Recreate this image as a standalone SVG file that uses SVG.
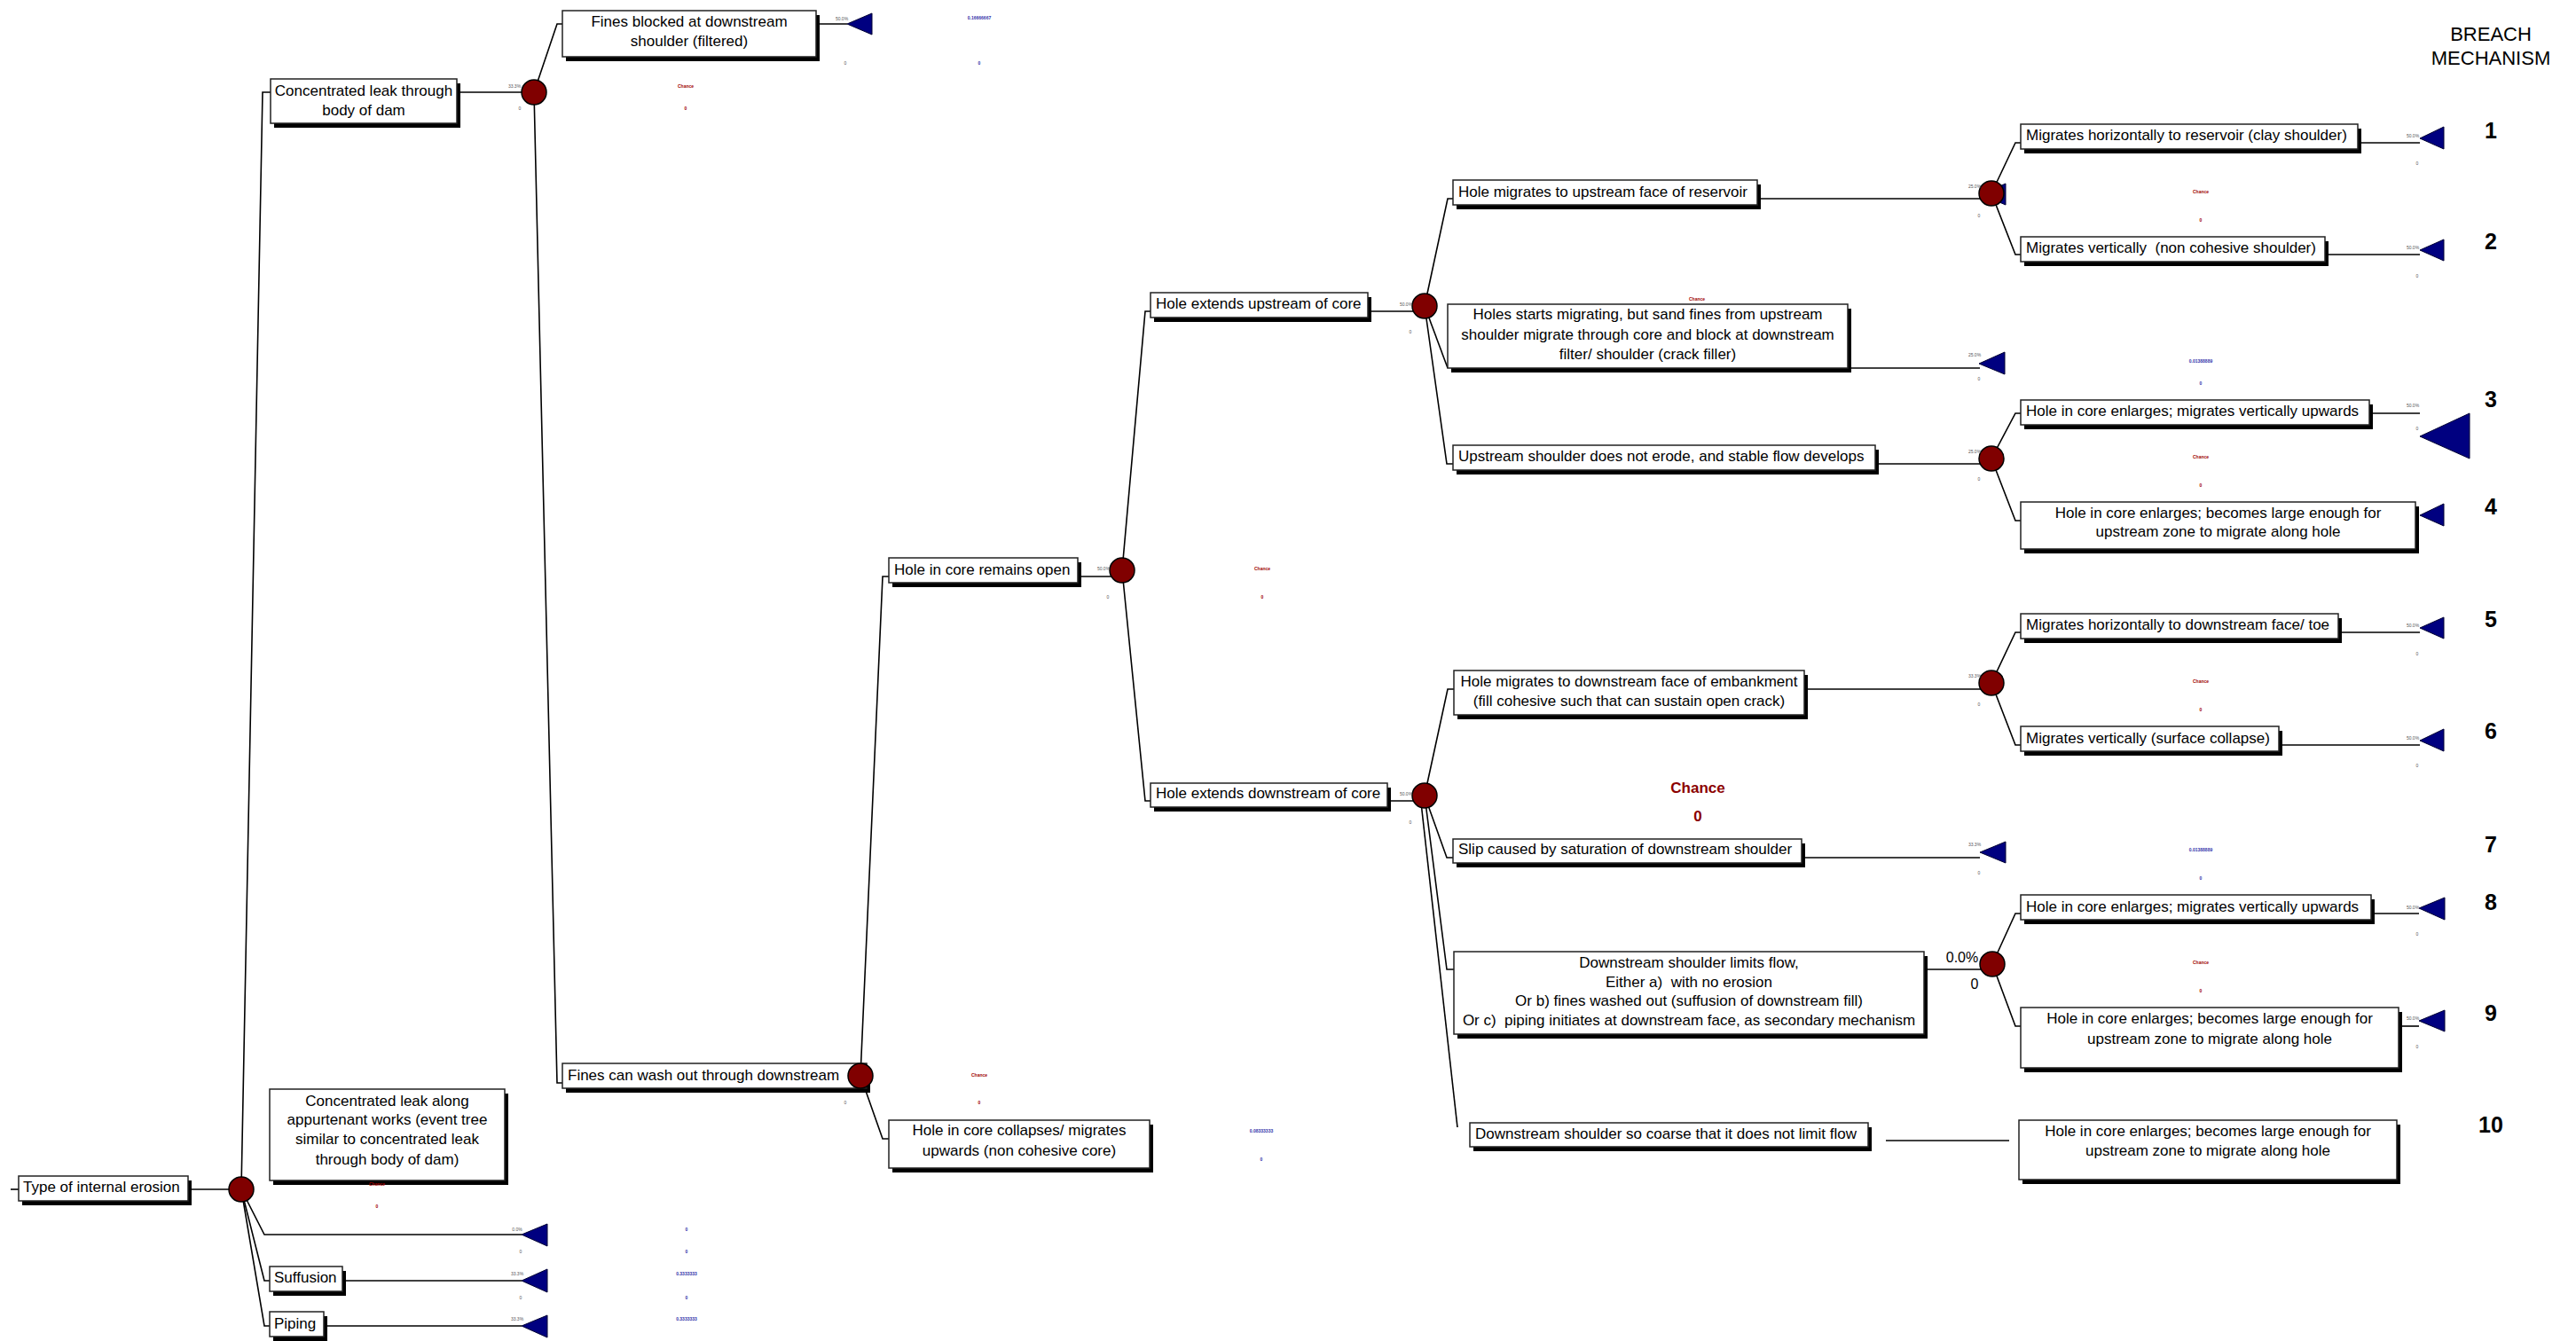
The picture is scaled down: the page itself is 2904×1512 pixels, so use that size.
<svg xmlns="http://www.w3.org/2000/svg" width="2904" height="1512" viewBox="0 0 2904 1512">
<style>
.sh{fill:#000}
.bx{fill:#fff;stroke:#222;stroke-width:1.5}
.t{font-family:"Liberation Sans",Arial,sans-serif;font-size:17px;fill:#000;white-space:pre}
.m{text-anchor:middle}
.c{fill:#800000;stroke:#000;stroke-width:1.5}
.tri{fill:#000080;stroke:#000033;stroke-width:1}
.conn{fill:none;stroke:#000;stroke-width:1.6}
.p{font-family:"Liberation Sans",Arial,sans-serif;font-size:5px;fill:#555;text-anchor:middle}
.r{font-family:"Liberation Sans",Arial,sans-serif;font-size:5px;fill:#a00000;text-anchor:middle;font-weight:bold}
.b{font-family:"Liberation Sans",Arial,sans-serif;font-size:5px;fill:#3333aa;text-anchor:middle;font-weight:bold}
.num{font-family:"Liberation Sans",Arial,sans-serif;font-size:25px;font-weight:bold;text-anchor:middle;fill:#000}
.hd{font-family:"Liberation Sans",Arial,sans-serif;font-size:22px;text-anchor:middle;fill:#000}
</style>
<rect width="2904" height="1512" fill="#fff"/>

<g id="connectors">
<polyline class="conn" points="12,1341 21,1341"/>
<polyline class="conn" points="212,1341 272,1341"/>
<polyline class="conn" points="272,1341 296,104 305,104"/>
<polyline class="conn" points="272,1341 298,1392 588,1392"/>
<polyline class="conn" points="272,1341 298,1444 304,1444"/>
<polyline class="conn" points="386,1444 588,1444"/>
<polyline class="conn" points="272,1341 298,1495 304,1495"/>
<polyline class="conn" points="365,1495 588,1495"/>
<polyline class="conn" points="515,104 602,104"/>
<polyline class="conn" points="602,104 628,27 634,27"/>
<polyline class="conn" points="920,27 955,27"/>
<polyline class="conn" points="602,104 628,1221 634,1221"/>
<polyline class="conn" points="970,1213 995,650 1002,650"/>
<polyline class="conn" points="970,1213 995,1284 1002,1284"/>
<polyline class="conn" points="1215,650 1265,650"/>
<polyline class="conn" points="1265,643 1291,351 1297,351"/>
<polyline class="conn" points="1265,643 1291,903 1297,903"/>
<polyline class="conn" points="1542,351 1606,351"/>
<polyline class="conn" points="1564,903 1606,903"/>
<polyline class="conn" points="1606,345 1632,224 1638,224"/>
<polyline class="conn" points="1606,345 1632,415"/>
<polyline class="conn" points="1606,345 1631,523 1638,523"/>
<polyline class="conn" points="1981,224 2245,224"/>
<polyline class="conn" points="2083,415 2232,415"/>
<polyline class="conn" points="2114,523 2245,523"/>
<polyline class="conn" points="1606,897 1632,777 1639,777"/>
<polyline class="conn" points="1606,897 1631,967 1638,967"/>
<polyline class="conn" points="1606,897 1631,1093 1639,1093"/>
<polyline class="conn" points="1602,905 1643,1271"/>
<polyline class="conn" points="2034,777 2245,777"/>
<polyline class="conn" points="2031,967 2232,967"/>
<polyline class="conn" points="2169,1093 2246,1093"/>
<polyline class="conn" points="2126,1286 2265,1286"/>
<polyline class="conn" points="2245,218 2272,161 2278,161"/>
<polyline class="conn" points="2658,161 2728,161"/>
<polyline class="conn" points="2245,218 2272,287 2278,287"/>
<polyline class="conn" points="2621,287 2728,287"/>
<polyline class="conn" points="2245,517 2272,466 2278,466"/>
<polyline class="conn" points="2671,466 2728,466"/>
<polyline class="conn" points="2245,517 2272,587 2278,587"/>
<polyline class="conn" points="2245,770 2272,713 2278,713"/>
<polyline class="conn" points="2636,713 2728,713"/>
<polyline class="conn" points="2245,770 2272,840 2278,840"/>
<polyline class="conn" points="2569,840 2728,840"/>
<polyline class="conn" points="2246,1087 2272,1030 2278,1030"/>
<polyline class="conn" points="2673,1030 2727,1030"/>
<polyline class="conn" points="2246,1087 2272,1157 2278,1157"/>
<polyline class="conn" points="2704,1157 2727,1157"/>
</g>

<g id="n-type"><rect class="sh" x="25" y="1331" width="191" height="28"/><rect class="bx" x="21" y="1326" width="191" height="28"/><text class="t" x="26" y="1344">Type of internal erosion</text></g>
<g id="n-conc-body"><rect class="sh" x="309" y="94" width="210" height="50"/><rect class="bx" x="305" y="89" width="210" height="50"/><text class="t m" x="410" y="108">Concentrated leak through</text><text class="t m" x="410" y="130">body of dam</text></g>
<g id="n-conc-app"><rect class="sh" x="308" y="1233" width="265" height="103"/><rect class="bx" x="304" y="1228" width="265" height="103"/><text class="t m" x="436.5" y="1247">Concentrated leak along</text><text class="t m" x="436.5" y="1268">appurtenant works (event tree</text><text class="t m" x="436.5" y="1290">similar to concentrated leak</text><text class="t m" x="436.5" y="1313">through body of dam)</text></g>
<g id="n-suffusion"><rect class="sh" x="308" y="1433" width="82" height="28"/><rect class="bx" x="304" y="1428" width="82" height="28"/><text class="t" x="309" y="1446">Suffusion</text></g>
<g id="n-piping"><rect class="sh" x="308" y="1484" width="61" height="28"/><rect class="bx" x="304" y="1479" width="61" height="28"/><text class="t" x="309" y="1498">Piping</text></g>
<g id="n-fines-blocked"><rect class="sh" x="638" y="17" width="286" height="52"/><rect class="bx" x="634" y="12" width="286" height="52"/><text class="t m" x="777" y="30">Fines blocked at downstream</text><text class="t m" x="777" y="52">shoulder (filtered)</text></g>
<g id="n-fines-wash"><rect class="sh" x="638" y="1204" width="343" height="28"/><rect class="bx" x="634" y="1199" width="343" height="28"/><text class="t" x="640" y="1218">Fines can wash out through downstream</text></g>
<g id="n-open"><rect class="sh" x="1006" y="634" width="213" height="28"/><rect class="bx" x="1002" y="629" width="213" height="28"/><text class="t" x="1008" y="648">Hole in core remains open</text></g>
<g id="n-collapse"><rect class="sh" x="1006" y="1268" width="294" height="54"/><rect class="bx" x="1002" y="1263" width="294" height="54"/><text class="t m" x="1149" y="1280">Hole in core collapses/ migrates</text><text class="t m" x="1149" y="1303">upwards (non cohesive core)</text></g>
<g id="n-ext-up"><rect class="sh" x="1301" y="335" width="245" height="28"/><rect class="bx" x="1297" y="330" width="245" height="28"/><text class="t" x="1303" y="348">Hole extends upstream of core</text></g>
<g id="n-ext-down"><rect class="sh" x="1301" y="888" width="267" height="27"/><rect class="bx" x="1297" y="883" width="267" height="27"/><text class="t" x="1303" y="900">Hole extends downstream of core</text></g>
<g id="n-mig-up"><rect class="sh" x="1642" y="208" width="343" height="28"/><rect class="bx" x="1638" y="203" width="343" height="28"/><text class="t" x="1644" y="222">Hole migrates to upstream face of reservoir</text></g>
<g id="n-crack-filler"><rect class="sh" x="1636" y="348" width="451" height="72"/><rect class="bx" x="1632" y="343" width="451" height="72"/><text class="t m" x="1857.5" y="360">Holes starts migrating, but sand fines from upstream</text><text class="t m" x="1857.5" y="383">shoulder migrate through core and block at downstream</text><text class="t m" x="1857.5" y="405">filter/ shoulder (crack filler)</text></g>
<g id="n-stable"><rect class="sh" x="1642" y="507" width="476" height="28"/><rect class="bx" x="1638" y="502" width="476" height="28"/><text class="t" x="1644" y="520">Upstream shoulder does not erode, and stable flow develops</text></g>
<g id="n-mig-down"><rect class="sh" x="1643" y="761" width="395" height="50"/><rect class="bx" x="1639" y="756" width="395" height="50"/><text class="t m" x="1836.5" y="774">Hole migrates to downstream face of embankment</text><text class="t m" x="1836.5" y="796">(fill cohesive such that can sustain open crack)</text></g>
<g id="n-slip"><rect class="sh" x="1642" y="951" width="393" height="27"/><rect class="bx" x="1638" y="946" width="393" height="27"/><text class="t" x="1644" y="963">Slip caused by saturation of downstream shoulder</text></g>
<g id="n-limits"><rect class="sh" x="1643" y="1078" width="530" height="93"/><rect class="bx" x="1639" y="1073" width="530" height="93"/><text class="t m" x="1904" y="1091">Downstream shoulder limits flow,</text><text class="t m" x="1904" y="1113">Either a)  with no erosion</text><text class="t m" x="1904" y="1134">Or b) fines washed out (suffusion of downstream fill)</text><text class="t m" x="1904" y="1156">Or c)  piping initiates at downstream face, as secondary mechanism</text></g>
<g id="n-coarse"><rect class="sh" x="1661" y="1271" width="449" height="27"/><rect class="bx" x="1657" y="1266" width="449" height="27"/><text class="t" x="1663" y="1284">Downstream shoulder so coarse that it does not limit flow</text></g>
<g id="n-b1"><rect class="sh" x="2282" y="145" width="380" height="28"/><rect class="bx" x="2278" y="140" width="380" height="28"/><text class="t" x="2284" y="158">Migrates horizontally to reservoir (clay shoulder)</text></g>
<g id="n-b2"><rect class="sh" x="2282" y="272" width="343" height="28"/><rect class="bx" x="2278" y="267" width="343" height="28"/><text class="t" x="2284" y="285">Migrates vertically  (non cohesive shoulder)</text></g>
<g id="n-b3"><rect class="sh" x="2282" y="456" width="393" height="28"/><rect class="bx" x="2278" y="451" width="393" height="28"/><text class="t" x="2284" y="469">Hole in core enlarges; migrates vertically upwards</text></g>
<g id="n-b4"><rect class="sh" x="2282" y="571" width="445" height="53"/><rect class="bx" x="2278" y="566" width="445" height="53"/><text class="t m" x="2500.5" y="584">Hole in core enlarges; becomes large enough for</text><text class="t m" x="2500.5" y="605">upstream zone to migrate along hole</text></g>
<g id="n-b5"><rect class="sh" x="2282" y="697" width="358" height="28"/><rect class="bx" x="2278" y="692" width="358" height="28"/><text class="t" x="2284" y="710">Migrates horizontally to downstream face/ toe</text></g>
<g id="n-b6"><rect class="sh" x="2282" y="824" width="291" height="28"/><rect class="bx" x="2278" y="819" width="291" height="28"/><text class="t" x="2284" y="838">Migrates vertically (surface collapse)</text></g>
<g id="n-b8"><rect class="sh" x="2282" y="1014" width="395" height="28"/><rect class="bx" x="2278" y="1009" width="395" height="28"/><text class="t" x="2284" y="1028">Hole in core enlarges; migrates vertically upwards</text></g>
<g id="n-b9"><rect class="sh" x="2282" y="1141" width="426" height="68"/><rect class="bx" x="2278" y="1136" width="426" height="68"/><text class="t m" x="2491" y="1154">Hole in core enlarges; becomes large enough for</text><text class="t m" x="2491" y="1177">upstream zone to migrate along hole</text></g>
<g id="n-b10"><rect class="sh" x="2280" y="1268" width="426" height="67"/><rect class="bx" x="2276" y="1263" width="426" height="67"/><text class="t m" x="2489" y="1281">Hole in core enlarges; becomes large enough for</text><text class="t m" x="2489" y="1303">upstream zone to migrate along hole</text></g>

<g id="terminals">
<polygon class="tri" points="955,27 983,15 983,39"/>
<polygon class="tri" points="2233,219 2261,207 2261,231"/>
<polygon class="tri" points="2728,156 2755,143 2755,168"/>
<polygon class="tri" points="2728,282 2755,270 2755,294"/>
<polygon class="tri" points="2231,410 2260,397 2260,422"/>
<polygon class="tri" points="2728,492 2784,466 2784,517"/>
<polygon class="tri" points="2728,581 2755,568 2755,593"/>
<polygon class="tri" points="2728,708 2755,696 2755,720"/>
<polygon class="tri" points="2728,835 2755,822 2755,847"/>
<polygon class="tri" points="2232,961 2261,949 2261,973"/>
<polygon class="tri" points="2727,1024 2756,1012 2756,1037"/>
<polygon class="tri" points="2727,1151 2756,1139 2756,1163"/>
<polygon class="tri" points="588,1392 617,1380 617,1405"/>
<polygon class="tri" points="588,1444 617,1431 617,1457"/>
<polygon class="tri" points="588,1495 617,1483 617,1508"/>
</g>

<g id="chance-nodes">
<circle id="c-root" class="c" cx="272" cy="1341" r="14"/>
<circle id="c-conc" class="c" cx="602" cy="104" r="14"/>
<circle id="c-fines" class="c" cx="970" cy="1213" r="14"/>
<circle id="c-open" class="c" cx="1265" cy="643" r="14"/>
<circle id="c-up" class="c" cx="1606" cy="345" r="14"/>
<circle id="c-down" class="c" cx="1606" cy="897" r="14"/>
<circle id="c-migup" class="c" cx="2245" cy="218" r="14"/>
<circle id="c-stable" class="c" cx="2245" cy="517" r="14"/>
<circle id="c-migdown" class="c" cx="2245" cy="770" r="14"/>
<circle id="c-limits" class="c" cx="2246" cy="1087" r="14"/>
</g>

<g id="small-labels">
<text class="p" x="580" y="99">33.3%</text><text class="p" x="586" y="124">0</text>
<text class="r" x="773" y="99">Chance</text><text class="r" x="773" y="124">0</text>
<text class="p" x="949" y="23">50.0%</text><text class="p" x="953" y="73">0</text>
<text class="b" x="1104" y="22">0.16666667</text><text class="b" x="1104" y="73">0</text>
<text class="r" x="425" y="1337">Chance</text><text class="r" x="425" y="1362">0</text>
<text class="p" x="583" y="1388">0.0%</text><text class="p" x="587" y="1413">0</text>
<text class="b" x="774" y="1388">0</text><text class="b" x="774" y="1413">0</text>
<text class="p" x="583" y="1438">33.3%</text><text class="p" x="587" y="1465">0</text>
<text class="b" x="774" y="1438">0.3333333</text><text class="b" x="774" y="1465">0</text>
<text class="p" x="583" y="1489">33.3%</text>
<text class="b" x="774" y="1489">0.3333333</text>
<text class="p" x="953" y="1245">0</text>
<text class="r" x="1104" y="1214">Chance</text><text class="r" x="1104" y="1245">0</text>
<text class="b" x="1422" y="1277">0.08333333</text><text class="b" x="1422" y="1309">0</text>
<text class="p" x="1244" y="643">50.0%</text><text class="p" x="1249" y="675">0</text>
<text class="r" x="1423" y="643">Chance</text><text class="r" x="1423" y="675">0</text>
<text class="p" x="1585" y="345">50.0%</text><text class="p" x="1590" y="376">0</text>
<text class="r" x="1913" y="339">Chance</text>
<text class="p" x="1585" y="897">50.0%</text><text class="p" x="1590" y="929">0</text>
<text x="1914" y="894" style="font-family:'Liberation Sans',Arial,sans-serif;font-size:17px;font-weight:bold;fill:#8b0000;text-anchor:middle">Chance</text>
<text x="1914" y="926" style="font-family:'Liberation Sans',Arial,sans-serif;font-size:17px;font-weight:bold;fill:#8b0000;text-anchor:middle">0</text>
<text class="p" x="2226" y="212">25.0%</text><text class="p" x="2231" y="245">0</text>
<text class="r" x="2481" y="218">Chance</text><text class="r" x="2481" y="250">0</text>
<text class="p" x="2720" y="155">50.0%</text><text class="p" x="2725" y="186">0</text>
<text class="p" x="2720" y="281">50.0%</text><text class="p" x="2725" y="313">0</text>
<text class="p" x="2226" y="402">25.0%</text><text class="p" x="2231" y="429">0</text>
<text class="b" x="2481" y="409">0.01388889</text><text class="b" x="2481" y="434">0</text>
<text class="p" x="2226" y="511">25.0%</text><text class="p" x="2231" y="542">0</text>
<text class="r" x="2481" y="517">Chance</text><text class="r" x="2481" y="549">0</text>
<text class="p" x="2720" y="459">50.0%</text><text class="p" x="2725" y="485">0</text>
<text class="p" x="2226" y="764">33.3%</text><text class="p" x="2231" y="796">0</text>
<text class="r" x="2481" y="770">Chance</text><text class="r" x="2481" y="802">0</text>
<text class="p" x="2720" y="707">50.0%</text><text class="p" x="2725" y="739">0</text>
<text class="p" x="2720" y="834">50.0%</text><text class="p" x="2725" y="865">0</text>
<text class="p" x="2226" y="954">33.3%</text><text class="p" x="2231" y="986">0</text>
<text class="b" x="2481" y="960">0.01388889</text><text class="b" x="2481" y="992">0</text>
<text x="2212" y="1085" style="font-family:'Liberation Sans',Arial,sans-serif;font-size:16px;fill:#000;text-anchor:middle">0.0%</text>
<text x="2226" y="1115" style="font-family:'Liberation Sans',Arial,sans-serif;font-size:16px;fill:#000;text-anchor:middle">0</text>
<text class="r" x="2481" y="1087">Chance</text><text class="r" x="2481" y="1119">0</text>
<text class="p" x="2720" y="1025">50.0%</text><text class="p" x="2725" y="1055">0</text>
<text class="p" x="2720" y="1150">50.0%</text><text class="p" x="2725" y="1182">0</text>
</g>

<g id="breach-mechanism">
<text class="hd" x="2808" y="46">BREACH</text>
<text class="hd" x="2808" y="73">MECHANISM</text>
<text class="num" x="2808" y="156">1</text>
<text class="num" x="2808" y="281">2</text>
<text class="num" x="2808" y="459">3</text>
<text class="num" x="2808" y="580">4</text>
<text class="num" x="2808" y="707">5</text>
<text class="num" x="2808" y="833">6</text>
<text class="num" x="2808" y="961">7</text>
<text class="num" x="2808" y="1026">8</text>
<text class="num" x="2808" y="1151">9</text>
<text class="num" x="2808" y="1277">10</text>
</g>
</svg>
